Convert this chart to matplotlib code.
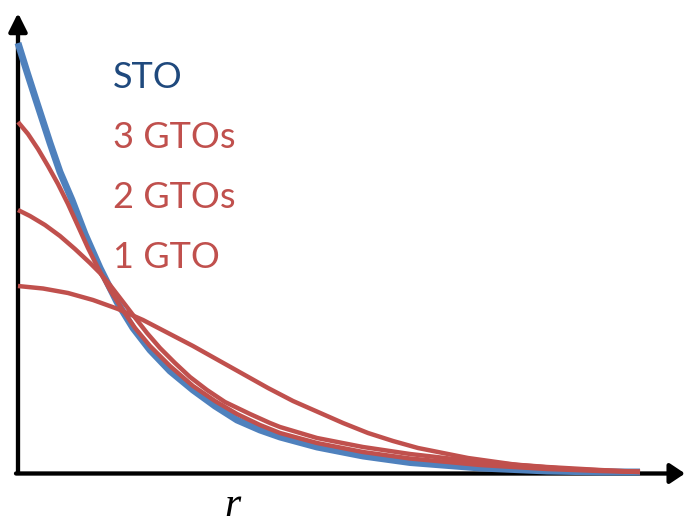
import matplotlib
matplotlib.use("Agg")
import matplotlib.pyplot as plt

# Values (r in arbitrary units, psi relative)
r_sto = [0, 0.09, 0.18, 0.32, 0.42, 0.54, 0.67, 0.82, 0.99, 1.15, 1.32, 1.52, 1.75,
         1.97, 2.19, 2.42, 2.62, 2.99, 3.45, 3.92, 4.62, 5.29, 5.82, 6.22]
psi_sto = [4.30, 4.01, 3.73, 3.30, 3.01, 2.73, 2.39, 2.05, 1.71, 1.45, 1.23, 1.02, 0.83,
           0.67, 0.53, 0.43, 0.36, 0.26, 0.17, 0.105, 0.05, 0.02, 0.01, 0.01]

r_3g = [0, 0.10, 0.20, 0.30, 0.40, 0.50, 0.60, 0.70, 0.80, 0.92, 1.04, 1.17, 1.32,
        1.52, 1.75, 1.97, 2.19, 2.42, 2.62, 2.99, 3.45, 3.92, 4.62, 5.29, 5.82, 6.22]
psi_3g = [3.51, 3.39, 3.24, 3.07, 2.89, 2.69, 2.47, 2.25, 2.05, 1.83, 1.64, 1.45, 1.27,
          1.07, 0.87, 0.72, 0.59, 0.48, 0.40, 0.30, 0.21, 0.145, 0.08, 0.04, 0.02, 0.01]

r_2g = [0, 0.12, 0.27, 0.42, 0.57, 0.72, 0.82, 0.92, 1.02, 1.15, 1.29, 1.42, 1.57,
        1.72, 1.89, 2.07, 2.32, 2.52, 2.62, 2.99, 3.45, 3.92, 4.62, 5.29, 5.82, 6.22]
psi_2g = [2.63, 2.57, 2.48, 2.37, 2.24, 2.10, 2.00, 1.88, 1.75, 1.58, 1.40, 1.25, 1.10,
          0.96, 0.83, 0.71, 0.59, 0.50, 0.46, 0.35, 0.26, 0.19, 0.11, 0.06, 0.03, 0.01]

r_1g = [0, 0.25, 0.5, 0.75, 1.0, 1.25, 1.5, 1.75, 2.0, 2.25, 2.5, 2.75, 3.0,
        3.25, 3.5, 3.75, 4.0, 4.5, 5.0, 5.5, 6.0, 6.22]
psi_1g = [1.87, 1.845, 1.80, 1.73, 1.64, 1.53, 1.40, 1.27, 1.13, 0.99, 0.85, 0.72, 0.61,
          0.50, 0.40, 0.32, 0.25, 0.15, 0.08, 0.04, 0.02, 0.015]

labels = ["STO", "3 GTOs", "2 GTOs", "1 GTO"]

BLUE = "#4F81BD"
RED = "#C0504D"
DARKBLUE = "#1F497D"

fig = plt.figure(figsize=(6.85, 5.23), dpi=100)
ax = fig.add_axes([0, 0, 1, 1])
ax.set_xlim(-0.18, 6.67)
ax.set_ylim(-0.50, 4.73)
ax.axis("off")

# axes with arrows
ax.annotate("", xy=(0, 4.60), xytext=(0, 0),
            arrowprops=dict(arrowstyle="-|>,head_length=1.1,head_width=0.55",
                            mutation_scale=10, lw=3.1, color="black",
                            shrinkA=0, shrinkB=0))
ax.annotate("", xy=(6.67, -0.005), xytext=(-0.02, -0.005),
            arrowprops=dict(arrowstyle="-|>,head_length=0.9,head_width=0.6",
                            mutation_scale=10, lw=3.1, color="black",
                            shrinkA=0, shrinkB=0))

ax.plot(r_sto, psi_sto, color=BLUE, lw=5.0, solid_capstyle="butt",
        solid_joinstyle="round", zorder=3)
for rr, pp in [(r_3g, psi_3g), (r_2g, psi_2g), (r_1g, psi_1g)]:
    ax.plot(rr, pp, color=RED, lw=3.2, solid_capstyle="butt",
            solid_joinstyle="round", zorder=4)

colors = [DARKBLUE, RED, RED, RED]
ys = [3.85, 3.25, 2.65, 2.05]
for lab, c, yy in zip(labels, colors, ys):
    ax.text(0.95, yy, lab, color=c, fontsize=26, family="Lato",
            ha="left", va="baseline")

ax.text(2.14, -0.43, "r", fontsize=30, family="Liberation Serif",
        style="italic", ha="center", va="baseline")

fig.savefig("out.png", dpi=100)
